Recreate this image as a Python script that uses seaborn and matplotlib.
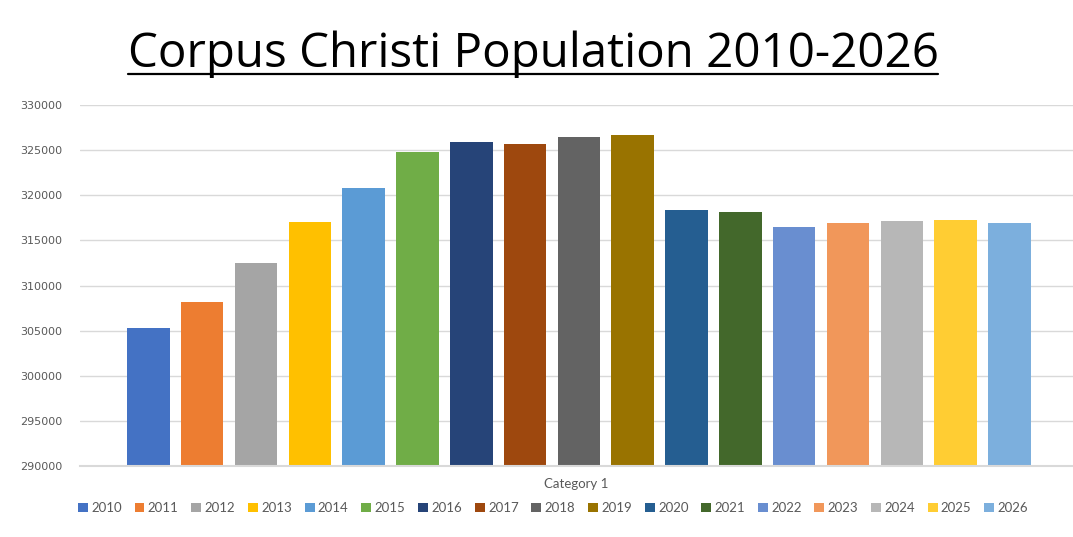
import matplotlib
matplotlib.use('Agg')
import matplotlib.pyplot as plt
import pandas as pd
import seaborn as sns
from matplotlib.lines import Line2D
from matplotlib.patches import Patch

# Data
years = ['2010', '2011', '2012', '2013', '2014', '2015', '2016', '2017', '2018',
         '2019', '2020', '2021', '2022', '2023', '2024', '2025', '2026']
population = [305300, 308200, 312450, 317050, 320800, 324750, 325900, 325700, 326450,
              326650, 318350, 318150, 316450, 316950, 317100, 317300, 316950]
colors = ['#4472C4', '#ED7D31', '#A5A5A5', '#FFC000', '#5B9BD5', '#70AD47', '#264478',
          '#9E480E', '#636363', '#997300', '#255E91', '#43682B', '#698ED0', '#F1975A',
          '#B7B7B7', '#FFCD33', '#7CAFDD']
yticks = list(range(290000, 330001, 5000))

df = pd.DataFrame({'year': years, 'population': population})

sns.set_style('white')
plt.rcParams['font.family'] = ['Lato', 'DejaVu Sans']

fig = plt.figure(figsize=(10.73, 5.37), dpi=100)
ax = fig.add_axes([80 / 1073, 1 - 466 / 537, 993 / 1073, 361 / 537])

sns.barplot(data=df, x='year', y='population', hue='year', palette=colors,
            width=0.79, order=years, hue_order=years, saturation=1,
            linewidth=0, edgecolor='none', legend=False, ax=ax)

ax.set_ylim(290000, 330000)
ax.set_xlim(-1.27, 17.18)
ax.set_yticks(yticks)
ax.set_yticklabels([str(t) for t in yticks], fontsize=8, color='#595959',
                   family='DejaVu Sans')
ax.tick_params(axis='y', length=0, pad=13)
ax.set_xticks([])
ax.set_xlabel('Category 1', fontsize=9.5, color='#595959', labelpad=9)
ax.set_ylabel('')
ax.yaxis.grid(True, color='#D9D9D9', linewidth=1)
ax.set_axisbelow(True)
for s in ['top', 'right', 'left']:
    ax.spines[s].set_visible(False)
ax.spines['bottom'].set_color('#D9D9D9')
ax.spines['bottom'].set_linewidth(1.5)

handles = [Patch(facecolor=c, edgecolor='none') for c in colors]
fig.legend(handles, years, loc='center', bbox_to_anchor=(553 / 1073, 1 - 508 / 537),
           ncol=17, frameon=False, fontsize=9.5, handlelength=0.75, handleheight=0.75,
           handletextpad=0.25, columnspacing=0.97, labelcolor='#595959')

title = fig.text(533 / 1073, 1 - 67 / 537, 'Corpus Christi Population 2010-2026',
                 ha='center', va='baseline', fontsize=34.2, color='black',
                 family=['Open Sans', 'DejaVu Sans'])

# underline the title like the original, just under the baseline
fig.canvas.draw()
bb = title.get_window_extent()
uy = 1 - 74 / 537
fig.add_artist(Line2D([bb.x0 / 1073, bb.x1 / 1073], [uy, uy], transform=fig.transFigure,
                      color='black', linewidth=1.6))

fig.savefig('out.png', dpi=100)
